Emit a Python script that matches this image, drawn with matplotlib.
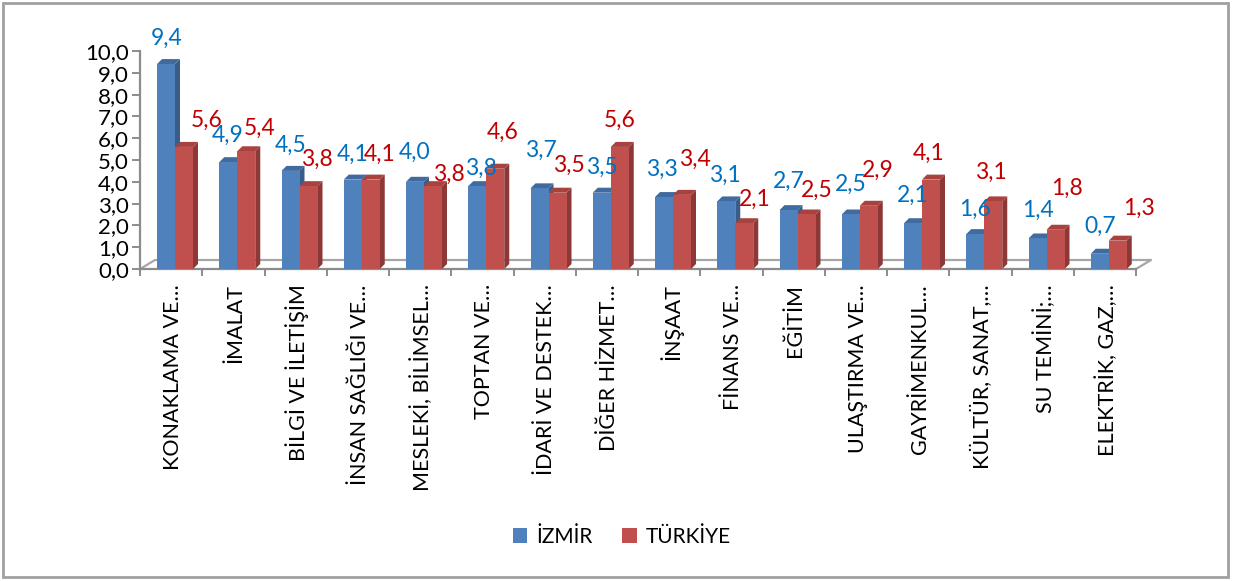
import numpy as np
import matplotlib
matplotlib.use("Agg")
import matplotlib.pyplot as plt
from matplotlib.patches import Polygon, Patch, Rectangle

plt.rcParams['font.family'] = ['Lato', 'DejaVu Sans']

# ---------------------------------------------------------------------------
# data
# ---------------------------------------------------------------------------
categories = [
    "KONAKLAMA VE…", "İMALAT", "BİLGİ VE İLETİŞİM", "İNSAN SAĞLIĞI VE…",
    "MESLEKİ, BİLİMSEL…", "TOPTAN VE…", "İDARİ VE DESTEK…", "DİĞER HİZMET…",
    "İNŞAAT", "FİNANS VE…", "EĞİTİM", "ULAŞTIRMA VE…", "GAYRİMENKUL…",
    "KÜLTÜR, SANAT,…", "SU TEMİNİ;…", "ELEKTRİK, GAZ,…",
]
izmir   = [9.4, 4.9, 4.5, 4.1, 4.0, 3.8, 3.7, 3.5, 3.3, 3.1, 2.7, 2.5, 2.1, 1.6, 1.4, 0.7]
turkiye = [5.6, 5.4, 3.8, 4.1, 3.8, 4.6, 3.5, 5.6, 3.4, 2.1, 2.5, 2.9, 4.1, 3.1, 1.8, 1.3]
series_names = ["İZMİR", "TÜRKİYE"]
y_ticks = np.arange(0, 11, 1)

# ---------------------------------------------------------------------------
# styling (label nudges in pixels, as placed in the source chart)
# ---------------------------------------------------------------------------
FRONT = ["#4F81BD", "#C0504D"]
SIDE  = ["#385D8A", "#8C3836"]
TOP   = ["#416B9F", "#A8423F"]
TEXT  = ["#0070C0", "#C00000"]
AXIS_GRAY = "#8C8C8C"

blue_dx = [1, -1, 0, 0, 0, 4, 1, 0, -2, -1, 0, 0, 0, 0, 0, 0]
blue_dy = [26, 27, 26, 25, 29, 18, 38, 25, 28, 26, 29, 30, 28, 25, 28, 27]
red_dx  = [23, 13, 8, 9, 16, 7, 11, 0, 13, 11, 10, 9, -2, -2, 11, 21]
red_dy  = [27, 23, 27, 25, 12, 36, 27, 27, 36, 24, 24, 35, 26, 29, 41, 32]

W, H = 1233, 581
PX_X = 62.25      # pixels per category
PX_Y = 21.8       # pixels per unit
BAR_W = 18 / PX_X
BAR_OFF = 17 / PX_X
DX, DY = 5 / PX_X, 5 / PX_Y           # bar depth
FDX, FDY = 15 / PX_X, 9 / PX_Y        # floor depth

fig = plt.figure(figsize=(W / 100, H / 100), dpi=100)
ax = fig.add_axes([140 / W, (H - 269) / H, 16 * PX_X / W, 10 * PX_Y / H])
ax.set_xlim(0, len(categories))
ax.set_ylim(0, 10)

n = len(categories)
idx = np.arange(n)

# floor
floor = [(0, 0), (FDX, FDY), (n + FDX, FDY), (n, 0)]
ax.plot(*zip(*floor), color="#A6A6A6", lw=1.6, clip_on=False, zorder=1)

for s, vals in enumerate([izmir, turkiye]):
    lefts = idx + BAR_OFF + s * BAR_W
    bars = ax.bar(lefts, vals, width=BAR_W, align="edge", color=FRONT[s],
                  edgecolor="none", zorder=3 + s * 2, clip_on=False)
    for b in bars:
        x0, x1, h = b.get_x(), b.get_x() + b.get_width(), b.get_height()
        side = Polygon([(x1, 0), (x1 + DX, DY), (x1 + DX, h + DY), (x1, h)],
                       closed=True, color=SIDE[s], lw=0, zorder=2 + s * 2,
                       clip_on=False)
        top = Polygon([(x0, h), (x0 + DX, h + DY), (x1 + DX, h + DY), (x1, h)],
                      closed=True, color=TOP[s], lw=0, zorder=2 + s * 2,
                      clip_on=False)
        ax.add_patch(side)
        ax.add_patch(top)

# data labels
for i in range(n):
    ax.annotate(f"{izmir[i]:.1f}".replace(".", ","),
                xy=(i + BAR_OFF + BAR_W / 2, izmir[i]),
                xytext=(blue_dx[i] * 0.72, blue_dy[i] * 0.72),
                textcoords="offset points", ha="center", va="center",
                fontsize=16.5, color=TEXT[0], zorder=10, annotation_clip=False)
    ax.annotate(f"{turkiye[i]:.1f}".replace(".", ","),
                xy=(i + BAR_OFF + 1.5 * BAR_W, turkiye[i]),
                xytext=(red_dx[i] * 0.72, red_dy[i] * 0.72),
                textcoords="offset points", ha="center", va="center",
                fontsize=16.5, color=TEXT[1], zorder=10, annotation_clip=False)

# axes
for sp in ["top", "right"]:
    ax.spines[sp].set_visible(False)
ax.spines["left"].set_color(AXIS_GRAY)
ax.spines["left"].set_linewidth(1.6)
ax.spines["bottom"].set_color(AXIS_GRAY)
ax.spines["bottom"].set_linewidth(1.6)
ax.patch.set_alpha(0)

ax.set_yticks(y_ticks)
ax.set_yticklabels([f"{v:.1f}".replace(".", ",") for v in y_ticks], fontsize=16)
ax.tick_params(axis="y", length=6, width=1.4, color=AXIS_GRAY, pad=2)

ax.set_xticks(idx + 0.53)
ax.set_xticklabels(categories, rotation=90, fontsize=15.5, va="top", ha="center")
ax.set_xticks(np.arange(n + 1), minor=True)
ax.tick_params(axis="x", which="major", length=0, pad=11)
ax.tick_params(axis="x", which="minor", length=5, width=1.4, color=AXIS_GRAY)

# legend
handles = [Patch(facecolor=c, edgecolor="none") for c in FRONT]
fig.legend(handles, series_names, loc="center", bbox_to_anchor=(622 / W, 1 - 537 / H),
           ncol=2, frameon=False, fontsize=15, handlelength=0.7, handleheight=0.7,
           handletextpad=0.45, columnspacing=1.4)

# chart border
fig.patches.append(Rectangle((3 / W, 4 / H), 1225 / W, 574 / H, transform=fig.transFigure,
                             fill=False, edgecolor="#A0A0A0", lw=2))

fig.savefig("out.png", dpi=100)
plt.close(fig)
